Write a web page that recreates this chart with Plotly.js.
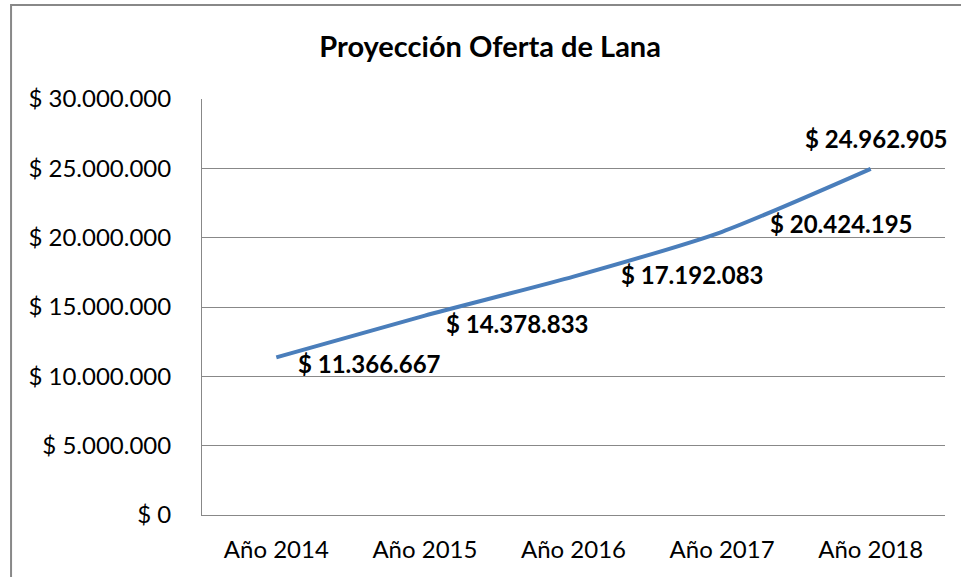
<!DOCTYPE html>
<html><head><meta charset="utf-8">
<script src="https://cdn.plot.ly/plotly-3.0.1.min.js"></script>
<style>body{margin:0;background:#fff}#c{width:961px;height:577px}</style>
</head><body><div id="c"></div>
<script>
const categories = ["Año 2014", "Año 2015", "Año 2016", "Año 2017", "Año 2018"];
const values = [11366667, 14378833, 17192083, 20424195, 24962905];
const tickVals = [0, 5000000, 10000000, 15000000, 20000000, 25000000, 30000000];
const tickText = ["$ 0", "$ 5.000.000", "$ 10.000.000", "$ 15.000.000", "$ 20.000.000", "$ 25.000.000", "$ 30.000.000"];

function fmt(v){ return "$ " + v.toString().replace(/\B(?=(\d{3})+(?!\d))/g, "."); }

const labelOffsets = [[20,6,"left"],[19,8,"left"],[45,-2,"left"],[46,-8,"left"],[6,-30,"center"]];
const FONT = "Lato, 'Open Sans', sans-serif";

const annotations = values.map((v,i)=>({
  x: categories[i], y: v, xref:'x', yref:'y',
  text: fmt(v), showarrow:true, arrowcolor:'rgba(0,0,0,0)',
  ax: labelOffsets[i][0], ay: labelOffsets[i][1], xanchor: labelOffsets[i][2], yanchor:'middle',
  font:{family:FONT, size:24, color:'#000', weight:'bold'}
}));

Plotly.newPlot('c', [{
  x: categories, y: values, type:'scatter', mode:'lines',
  line:{color:'#4A7EBB', width:4, shape:'spline', smoothing:0.6},
  hoverinfo:'skip'
}], {
  width:961, height:577,
  margin:{l:202, r:16, t:99, b:62},
  paper_bgcolor:'#fff', plot_bgcolor:'#fff',
  showlegend:false,
  title:{text:'<b>Proyección Oferta de Lana</b>', x:0.51, xanchor:'center', y:0.919, yanchor:'middle',
         font:{family:FONT, size:29, color:'#000'}},
  xaxis:{type:'category', range:[-0.5,4.5], showgrid:false, showline:true, linecolor:'#888', linewidth:1,
         tickfont:{family:FONT, size:24, color:'#000'}, ticks:'', ticklabelstandoff:13, zeroline:false},
  yaxis:{range:[0,30000000], tickvals:tickVals, ticktext:tickText, showgrid:true, gridcolor:'#888', gridwidth:1,
         showline:true, linecolor:'#888', linewidth:1, zeroline:false, ticks:'', ticklabelstandoff:25,
         tickfont:{family:FONT, size:24, color:'#000'}},
  annotations: annotations,
  shapes:[{type:'rect', xref:'paper', yref:'paper', x0:-0.257, x1:1.05, y0:-0.2, y1:1.226,
           line:{color:'#888', width:2}, fillcolor:'rgba(0,0,0,0)', layer:'below'}]
}, {staticPlot:true});
</script></body></html>
